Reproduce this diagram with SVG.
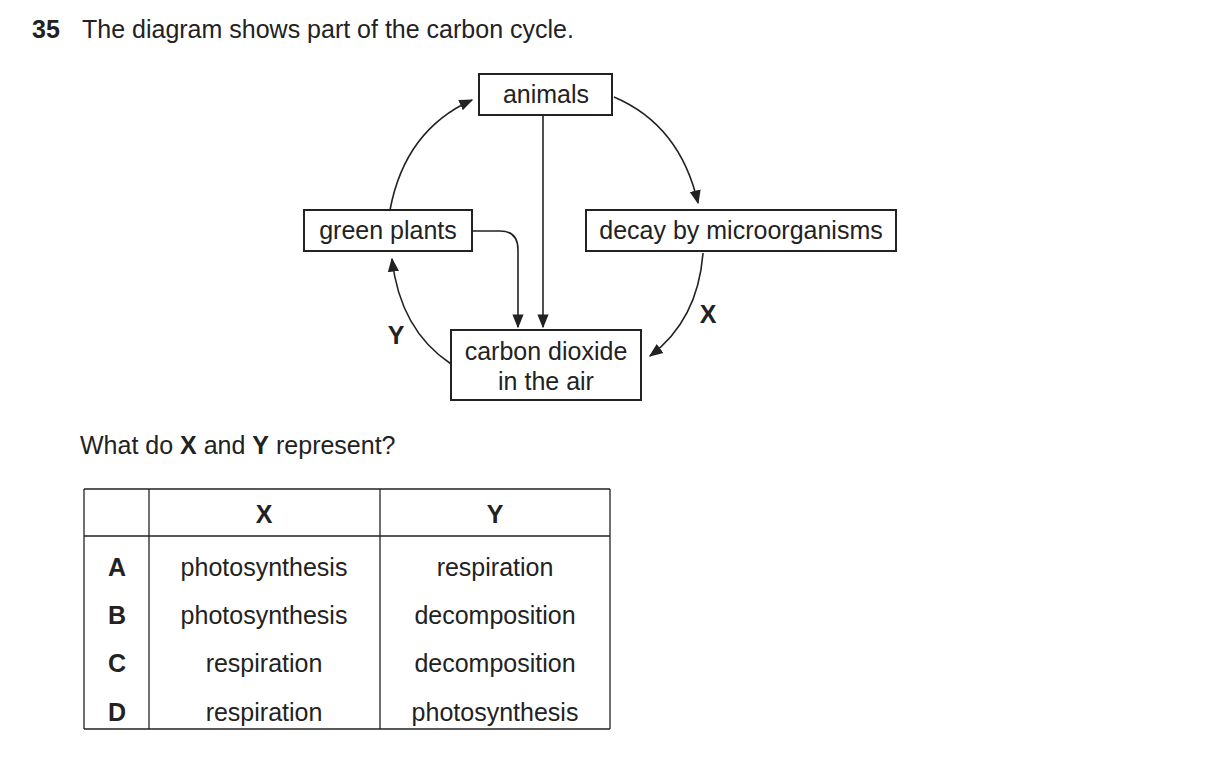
<svg xmlns="http://www.w3.org/2000/svg" width="1209" height="780" viewBox="0 0 1209 780">
<style>
text{font-family:"Liberation Sans",Arial,sans-serif;font-size:25px;fill:#222}
.b{font-weight:bold}
.box rect{fill:#fff;stroke:#222;stroke-width:2}
.c path,.c line{fill:none;stroke:#222;stroke-width:1.6}
.t line{stroke:#222;stroke-width:1.3}
</style>
<defs><marker id="ar" viewBox="0 0 10 10" refX="9" refY="5" markerWidth="14" markerHeight="14" markerUnits="userSpaceOnUse" orient="auto"><path d="M0,1L10,5L0,9z" fill="#222"/></marker></defs>
<text x="32" y="38" class="b">35</text><text x="82" y="38">The diagram shows part of the carbon cycle.</text>
<g class="c">
<line x1="543" y1="115" x2="543" y2="327" marker-end="url(#ar)"/>
<path d="M473,231 H500 Q518,231 518,250 V327" marker-end="url(#ar)"/>
<path d="M390,210 Q405,130 472,100" marker-end="url(#ar)"/>
<path d="M614,97 Q680,125 698,203" marker-end="url(#ar)"/>
<path d="M703,253 Q698,320 650,356" marker-end="url(#ar)"/>
<path d="M451,364 Q400,330 392,259" marker-end="url(#ar)"/>
</g>
<g id="animals" class="box"><rect x="479" y="74" width="133" height="41"/><text x="546" y="103" text-anchor="middle">animals</text></g>
<g id="plants" class="box"><rect x="304" y="210" width="168" height="41"/><text x="388" y="239" text-anchor="middle">green plants</text></g>
<g id="decay" class="box"><rect x="586" y="210" width="310" height="41"/><text x="741" y="239" text-anchor="middle">decay by microorganisms</text></g>
<g id="co2" class="box"><rect x="451" y="330" width="190" height="70"/><text x="546" y="360" text-anchor="middle">carbon dioxide</text><text x="546" y="390" text-anchor="middle">in the air</text></g>
<text x="396" y="344" class="b" text-anchor="middle">Y</text>
<text x="708" y="323" class="b" text-anchor="middle">X</text>
<text x="80" y="454">What do <tspan class="b">X</tspan> and <tspan class="b">Y</tspan> represent?</text>
<g class="t">
<line x1="84" y1="489" x2="610" y2="489"/><line x1="84" y1="536" x2="610" y2="536"/><line x1="84" y1="729" x2="610" y2="729"/>
<line x1="84" y1="489" x2="84" y2="729"/><line x1="149" y1="489" x2="149" y2="729"/><line x1="380" y1="489" x2="380" y2="729"/><line x1="610" y1="489" x2="610" y2="729"/>
</g>
<g text-anchor="middle">
<text x="264" y="523" class="b">X</text><text x="495" y="523" class="b">Y</text>
<text x="117" y="576" class="b">A</text><text x="264" y="576">photosynthesis</text><text x="495" y="576">respiration</text>
<text x="117" y="624" class="b">B</text><text x="264" y="624">photosynthesis</text><text x="495" y="624">decomposition</text>
<text x="117" y="672" class="b">C</text><text x="264" y="672">respiration</text><text x="495" y="672">decomposition</text>
<text x="117" y="721" class="b">D</text><text x="264" y="721">respiration</text><text x="495" y="721">photosynthesis</text>
</g>
</svg>
